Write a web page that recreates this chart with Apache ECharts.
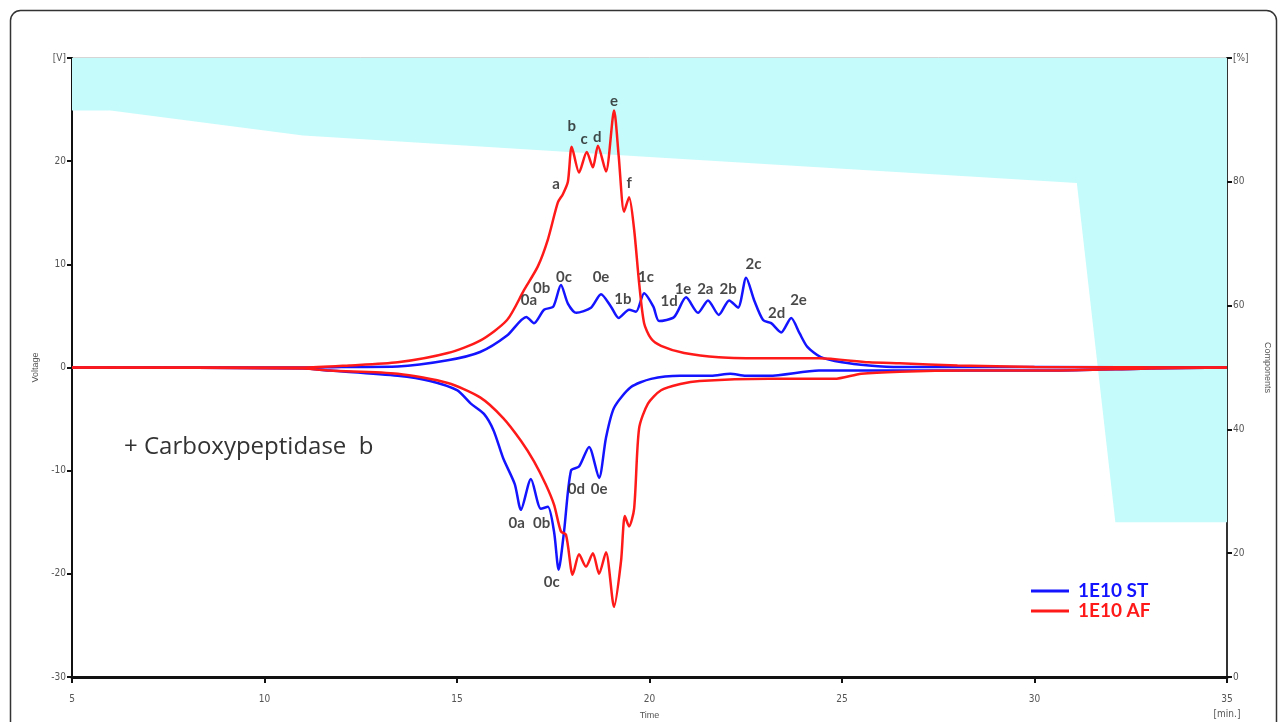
<!DOCTYPE html>
<html>
<head>
<meta charset="utf-8">
<script src="https://cdn.jsdelivr.net/npm/echarts@6/dist/echarts.min.js"></script>
<style>
  html, body { margin: 0; padding: 0; background: #fff; }
  #chart { width: 1282px; height: 722px; }
</style>
</head>
<body>
<div id="chart"></div>
<script>
// solvent gradient (Components, %)
const gradient = [[5, 91.5], [6, 91.5], [11, 87.5], [20, 84], [31.1, 79.8], [32.1, 25], [35, 25]]

// 1E10 ST, upper and lower traces [time, V]
const stUpper = [
  [5, 0], [8, 0], [11, 0], [12, 0.05], [13.46, 0.1], [14.76, 0.7], [15.6, 1.5], [16.3, 3.1],
  [16.8, 4.9], [17.0, 4.3], [17.26, 5.6], [17.5, 5.9], [17.7, 8.0], [17.88, 6.2], [18.1, 5.3],
  [18.48, 5.8], [18.74, 7.1], [19.0, 5.9], [19.2, 4.8], [19.47, 5.6], [19.65, 5.4], [19.86, 7.2],
  [20.1, 5.9], [20.25, 4.5], [20.64, 4.9], [20.95, 6.8], [21.26, 5.3], [21.52, 6.5], [21.8, 5.1],
  [22.07, 6.5], [22.3, 5.8], [22.51, 8.7], [22.72, 6.5], [22.95, 4.6], [23.16, 4.3], [23.42, 3.4],
  [23.68, 4.8], [23.9, 3.3], [24.1, 2.0], [24.45, 1.0], [25.0, 0.5], [25.7, 0.2], [26.5, 0.05],
  [30, 0.05], [35, 0]
]
const stLower = [
  [5, 0], [11, -0.1], [11.7, -0.3], [13.46, -0.8], [14.3, -1.3], [15.0, -2.2], [15.36, -3.5],
  [15.7, -4.5], [15.95, -6.1], [16.2, -8.8], [16.5, -11.3], [16.66, -13.8], [16.92, -10.8],
  [17.18, -13.7], [17.36, -13.5], [17.52, -15.9], [17.64, -19.6], [17.78, -15.9], [17.96, -10.0],
  [18.17, -9.6], [18.43, -7.7], [18.69, -10.7], [18.87, -6.8], [19.08, -3.9], [19.52, -1.9],
  [20.04, -1.1], [20.8, -0.8], [21.6, -0.8], [22.1, -0.6], [22.5, -0.8], [23.1, -0.8],
  [24.4, -0.3], [27.4, -0.3], [30.4, -0.3], [33, -0.1], [35, 0]
]

// 1E10 AF, upper and lower traces [time, V]
const afUpper = [
  [5, 0], [11, 0], [12.2, 0.2], [13.46, 0.5], [14.76, 1.4], [15.6, 2.6], [16.3, 4.6], [16.74, 7.5],
  [17.1, 9.8], [17.36, 12.4], [17.62, 16.0], [17.75, 16.8], [17.88, 18], [17.98, 21.4], [18.17, 18.9],
  [18.37, 20.9], [18.53, 19.4], [18.66, 21.5], [18.87, 19.0], [19.08, 24.9], [19.2, 20.5],
  [19.34, 15.1], [19.47, 16.5], [19.6, 13.4], [19.73, 8.2], [19.86, 4.3], [20.04, 2.8], [20.3, 2.1],
  [20.9, 1.4], [21.8, 1.0], [23.1, 0.9], [24.4, 0.9], [25.7, 0.5], [26.5, 0.4], [28, 0.2],
  [30, 0.05], [35, 0]
]
const afLower = [
  [5, 0], [11, -0.1], [11.7, -0.3], [13.46, -0.6], [14.76, -1.5], [15.6, -2.9], [16.2, -4.9],
  [16.66, -7.1], [17.0, -9.1], [17.3, -11.3], [17.52, -13.3], [17.7, -15.9], [17.83, -16.2],
  [17.96, -19.5], [18.0, -20.1], [18.17, -18.1], [18.35, -19.3], [18.53, -18.0], [18.69, -20.0],
  [18.87, -17.9], [19.08, -23.2], [19.26, -18.8], [19.36, -14.4], [19.47, -15.4], [19.6, -13.7],
  [19.73, -5.9], [19.96, -3.5], [20.3, -2.2], [20.8, -1.6], [21.3, -1.3], [23.1, -1.1],
  [24.8, -1.1], [25.5, -0.6], [26.5, -0.4], [28.3, -0.3], [30.4, -0.3], [33, -0.1], [35, 0]
]

// peak labels [time, V, text]
const peakLabels = [
  [17.57, 17.8, 'a'], [17.98, 23.4, 'b'], [18.3, 22.1, 'c'], [18.64, 22.3, 'd'],
  [19.08, 25.8, 'e'], [19.47, 17.9, 'f'],
  [16.87, 6.5, '0a'], [17.2, 7.7, '0b'], [17.78, 8.8, '0c'], [18.74, 8.8, '0e'],
  [19.31, 6.6, '1b'], [19.91, 8.8, '1c'], [20.51, 6.4, '1d'], [20.87, 7.6, '1e'],
  [21.45, 7.6, '2a'], [22.04, 7.6, '2b'], [22.7, 10.0, '2c'], [23.3, 5.3, '2d'], [23.87, 6.5, '2e'],
  [16.55, -15.1, '0a'], [17.2, -15.1, '0b'], [17.46, -20.8, '0c'], [18.1, -11.8, '0d'], [18.69, -11.8, '0e']
]

const tickFont = { fontSize: 10, color: '#555', fontFamily: 'Liberation Sans Narrow, DejaVu Sans Condensed, sans-serif' }
const blue = '#1414ff'
const red = '#ff1a1a'

const chart = echarts.init(document.getElementById('chart'))

chart.setOption({
  animation: false,
  grid: {
    left: 72, right: 55, top: 58, bottom: 45, outerBoundsMode: 'none',
    show: true, borderColor: '#aaa', borderWidth: 1
  },
  legend: {
    left: 1026, top: 576, orient: 'vertical', itemGap: 0,
    icon: 'rect', itemWidth: 38, itemHeight: 3,
    data: [
      { name: '1E10 ST', textStyle: { color: blue } },
      { name: '1E10 AF', textStyle: { color: red } }
    ],
    textStyle: { fontSize: 19, fontWeight: 'bold', fontFamily: 'Lato, sans-serif', lineHeight: 20, padding: [0, 0, 0, 4] }
  },
  xAxis: {
    type: 'value', min: 5, max: 35, interval: 5,
    name: 'Time', nameLocation: 'middle', nameGap: 34, nameMoveOverlap: false,
    nameTextStyle: { fontSize: 9, color: '#555', verticalAlign: 'top' },
    axisLine: { onZero: false, lineStyle: { color: '#111', width: 3 } },
    axisTick: { length: 6, lineStyle: { color: '#111', width: 2 } },
    axisLabel: Object.assign({ margin: 15, lineHeight: 15, formatter: v => v === 35 ? '35\n[min.]' : v }, tickFont),
    splitLine: { show: false }
  },
  yAxis: [
    {
      type: 'value', min: -30, max: 30, interval: 10,
      name: 'Voltage', nameLocation: 'middle', nameGap: 32, nameRotate: 90,
      nameTextStyle: { fontSize: 9, color: '#555' },
      axisLine: { show: true, onZero: false, lineStyle: { color: '#111', width: 2 } },
      axisTick: { show: true, length: 5, lineStyle: { color: '#111', width: 2 } },
      axisLabel: Object.assign({ margin: 6, formatter: v => v === 30 ? '[V]' : v }, tickFont),
      splitLine: { show: false }
    },
    {
      type: 'value', min: 0, max: 100, interval: 20, position: 'right',
      name: 'Components', nameLocation: 'middle', nameGap: 36, nameRotate: -90,
      nameTextStyle: { fontSize: 9, color: '#555' },
      axisLine: { show: true, onZero: false, lineStyle: { color: '#333', width: 2 } },
      axisTick: { show: true, length: 5, lineStyle: { color: '#111', width: 2 } },
      axisLabel: Object.assign({ margin: 6, formatter: v => v === 100 ? '[%]' : v }, tickFont),
      splitLine: { show: false }
    }
  ],
  series: [
    {
      name: 'gradient', type: 'line', yAxisIndex: 1, data: gradient,
      showSymbol: false, silent: true, z: 1,
      lineStyle: { width: 0 },
      areaStyle: { origin: 'end', color: '#c6fbfb', opacity: 1 }
    },
    {
      name: '1E10 ST', type: 'line', data: stUpper, showSymbol: false, smooth: 0.25,
      color: blue, lineStyle: { width: 2.5, color: blue }, z: 3
    },
    {
      name: '1E10 ST', type: 'line', data: stLower, showSymbol: false, smooth: 0.25,
      color: blue, lineStyle: { width: 2.5, color: blue }, z: 3
    },
    {
      name: '1E10 AF', type: 'line', data: afUpper, showSymbol: false, smooth: 0.25,
      color: red, lineStyle: { width: 2.5, color: red }, z: 4
    },
    {
      name: '1E10 AF', type: 'line', data: afLower, showSymbol: false, smooth: 0.25,
      color: red, lineStyle: { width: 2.5, color: red }, z: 4
    },
    {
      name: 'labels', type: 'scatter', data: peakLabels, symbolSize: 0, silent: true, z: 6,
      encode: { x: 0, y: 1 },
      label: {
        show: true, position: 'inside', formatter: p => p.value[2],
        fontSize: 15, fontWeight: 'bold', color: '#1a1a1a', fontFamily: 'Lato, sans-serif'
      }
    }
  ],
  graphic: [
    {
      type: 'rect', left: 8, top: 8, silent: true,
      shape: { width: 1266, height: 740, r: 10 },
      style: { fill: 'none', stroke: '#333', lineWidth: 1.5 }
    },
    {
      type: 'text', left: 124, top: 435, silent: true,
      style: { text: '+ Carboxypeptidase  b', fontSize: 24, fill: '#333', fontFamily: 'Open Sans, sans-serif' }
    }
  ]
})
</script>
</body>
</html>
